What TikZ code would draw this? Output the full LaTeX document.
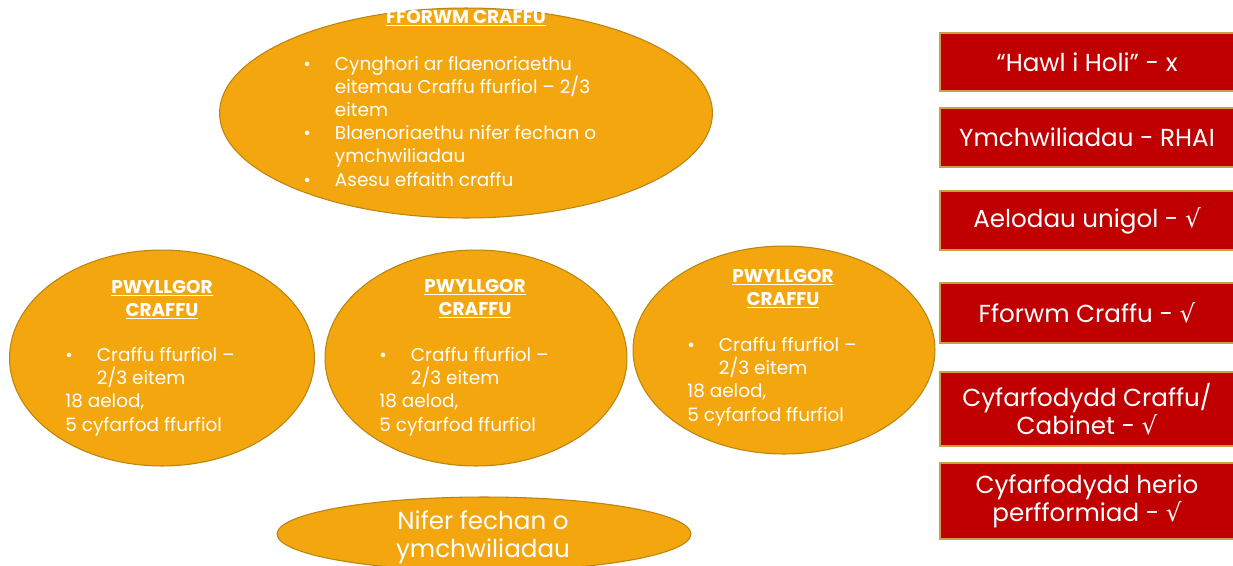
\documentclass[tikz,border=0pt]{standalone}
\usepackage{fontspec}
\setmainfont{Poppins}
\newfontfamily\symfont{DejaVu Sans}
\usetikzlibrary{shapes.geometric}

\definecolor{bubblefill}{HTML}{F3A60D}
\definecolor{bubbleline}{HTML}{B98510}
\definecolor{boxfill}{HTML}{C00000}
\definecolor{boxline}{HTML}{C9A043}

\newcommand{\ticksym}{{\symfont √}}
\newcommand{\bul}{\makebox[18pt][l]{\textbullet}}
\newcommand{\ind}{\hspace*{18pt}}

\begin{document}
\begin{tikzpicture}[x=0.02cm,y=-0.02cm,inner sep=0pt,
  bubble/.style={ellipse,draw=bubbleline,fill=bubblefill,line width=0.6pt},
  redbox/.style={rectangle,draw=boxline,fill=boxfill,line width=0.8pt,minimum width=5.88cm,
    text=white,align=center,font=\fontsize{14}{16}\selectfont},
  head/.style={text=white,align=center,anchor=base,font=\fontsize{10.5}{13}\selectfont\bfseries},
  body/.style={text=white,align=left,anchor=base west,font=\fontsize{10.5}{13.2}\selectfont}]

\clip (0,0) rectangle (1233,565);

% ellipses
\node[bubble,minimum width=9.86cm,minimum height=4.2cm] (forum) at (466,113) {};
\node[bubble,minimum width=6.1cm,minimum height=4.32cm] (cttee1) at (162,358) {};
\node[bubble,minimum width=6.04cm,minimum height=4.32cm] (cttee2) at (476,358) {};
\node[bubble,minimum width=6.04cm,minimum height=4.16cm] (cttee3) at (784,350) {};
\node[bubble,minimum width=8.28cm,minimum height=1.48cm] (inquiry) at (484,534) {};

% forum text
\node[head] (forumhead) at (466,23) {\underline{FFORWM CRAFFU}};
\node[body] (forumbody) at (303,186) {\bul Cynghori ar flaenoriaethu\\
  \ind eitemau Craffu ffurfiol – 2/3\\
  \ind eitem\\
  \bul Blaenoriaethu nifer fechan o\\
  \ind ymchwiliadau\\
  \bul Asesu effaith craffu};

% committees
\node[head] (head1) at (162,316) {\underline{PWYLLGOR}\\\underline{CRAFFU}};
\node[body] (body1) at (65,431) {\bul Craffu ffurfiol –\\\ind 2/3 eitem\\18 aelod,\\5 cyfarfod ffurfiol};

\node[head] (head2) at (475,315) {\underline{PWYLLGOR}\\\underline{CRAFFU}};
\node[body] (body2) at (379,431) {\bul Craffu ffurfiol –\\\ind 2/3 eitem\\18 aelod,\\5 cyfarfod ffurfiol};

\node[head] (head3) at (783,305) {\underline{PWYLLGOR}\\\underline{CRAFFU}};
\node[body] (body3) at (687,421) {\bul Craffu ffurfiol –\\\ind 2/3 eitem\\18 aelod,\\5 cyfarfod ffurfiol};

\node[text=white,align=center,font=\fontsize{14}{16}\selectfont] (inqtext) at (483,537) {Nifer fechan o\\ymchwiliadau};

% right column
\node[redbox,minimum height=1.16cm] (hawl) at (1087,62) {“Hawl i Holi” - x};
\node[redbox,minimum height=1.18cm] (ymch) at (1087,137.5) {Ymchwiliadau - RHAI};
\node[redbox,minimum height=1.18cm] (aelod) at (1087,220.5) {Aelodau unigol - \ticksym};
\node[redbox,minimum height=1.2cm] (fforwm) at (1087,313) {Fforwm Craffu - \ticksym};
\node[redbox,minimum height=1.48cm] (cabinet) at (1087,409) {Cyfarfodydd Craffu/\\Cabinet - \ticksym};
\node[redbox,minimum height=1.52cm] (herio) at (1087,501) {Cyfarfodydd herio\\perfformiad - \ticksym};

\end{tikzpicture}
\end{document}
